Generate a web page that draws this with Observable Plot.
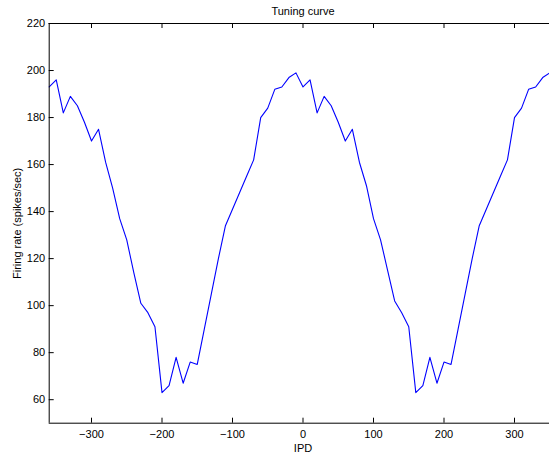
<!DOCTYPE html>
<html>
<head>
<meta charset="utf-8">
<script src="https://cdn.jsdelivr.net/npm/d3@7"></script>
<script src="https://cdn.jsdelivr.net/npm/@observablehq/plot@0.6"></script>
<style>
  html, body { margin: 0; padding: 0; background: #fff; overflow: hidden; }
  #chart svg { display: block; }
</style>
</head>
<body>
<div id="chart"></div>
<script>
const title = "Tuning curve";
const xLabel = "IPD";
const yLabel = "Firing rate (spikes/sec)";

const ipd = [
  -360, -350, -340, -330, -320, -310, -300, -290, -280, -270, -260, -250,
  -240, -230, -220, -210, -200, -190, -180, -170, -160, -150, -140, -130,
  -120, -110, -100, -90, -80, -70, -60, -50, -40, -30, -20, -10,
  0, 10, 20, 30, 40, 50, 60, 70, 80, 90, 100, 110,
  120, 130, 140, 150, 160, 170, 180, 190, 200, 210, 220, 230,
  240, 250, 260, 270, 280, 290, 300, 310, 320, 330, 340, 350
];
const rate = [
  193, 196, 182, 189, 185, 178, 170, 175, 161, 150, 137, 128,
  114, 101, 97, 91, 63, 66, 78, 67, 76, 75, 90, 105,
  120, 134, 141, 148, 155, 162, 180, 184, 192, 193, 197, 199,
  193, 196, 182, 189, 185, 178, 170, 175, 161, 151, 137, 128,
  115, 102, 97, 91, 63, 66, 78, 67, 76, 75, 90, 105,
  120, 134, 141, 148, 155, 162, 180, 184, 192, 193, 197, 199
];
const xTicks = [-300, -200, -100, 0, 100, 200, 300];
const yTicks = [60, 80, 100, 120, 140, 160, 180, 200, 220];
const xDomain = [-360, 360];
const yDomain = [50, 220];

const data = ipd.map((x, i) => ({ipd: x, rate: rate[i]}));

const W = 549, H = 453;
const mL = 48.7, mR = -7.3, mT = 23, mB = 30.3;
const plotH = H - mT - mB;
const plotW = W - mL - mR;
const tick = 5;
const font = '"Liberation Sans", Arial, Helvetica, sans-serif';

const chart = Plot.plot({
  width: W,
  height: H,
  marginLeft: mL,
  marginRight: mR,
  marginTop: mT,
  marginBottom: mB,
  style: {fontFamily: font, fontSize: "11px", color: "#000", background: "#fff", overflow: "hidden"},
  x: {domain: xDomain},
  y: {domain: yDomain},
  marks: [
    Plot.line(data, {x: "ipd", y: "rate", stroke: "#0000ff", strokeWidth: 1.1}),
    Plot.ruleX([xDomain[0]], {stroke: "#000", strokeWidth: 1}),
    Plot.ruleY([yDomain[0]], {stroke: "#000", strokeWidth: 1}),
    Plot.ruleY([yDomain[1]], {stroke: "#000", strokeWidth: 1}),
    Plot.tickX(xTicks, {x: d => d, insetTop: plotH - tick, stroke: "#000"}),
    Plot.tickX(xTicks, {x: d => d, insetBottom: plotH - tick, stroke: "#000"}),
    Plot.tickY(yTicks, {y: d => d, insetRight: plotW - tick, stroke: "#000"}),
    Plot.axisX(xTicks, {anchor: "bottom", tickSize: 0, tickPadding: 6.5, label: null, fill: "#000"}),
    Plot.axisY(yTicks, {anchor: "left", tickSize: 0, tickPadding: 4, label: null, fill: "#000"}),
    Plot.text([title], {frameAnchor: "top", dy: -12.5, text: d => d, textAnchor: "middle", lineAnchor: "middle", fill: "#000", fontSize: 11}),
    Plot.text([xLabel], {frameAnchor: "bottom", dy: 24.8, text: d => d, textAnchor: "middle", lineAnchor: "middle", fill: "#000", fontSize: 11}),
    Plot.text([yLabel], {frameAnchor: "left", dx: -32, rotate: -90, text: d => d, textAnchor: "middle", lineAnchor: "middle", fill: "#000", fontSize: 11})
  ]
});

document.getElementById("chart").appendChild(chart);
</script>
</body>
</html>
